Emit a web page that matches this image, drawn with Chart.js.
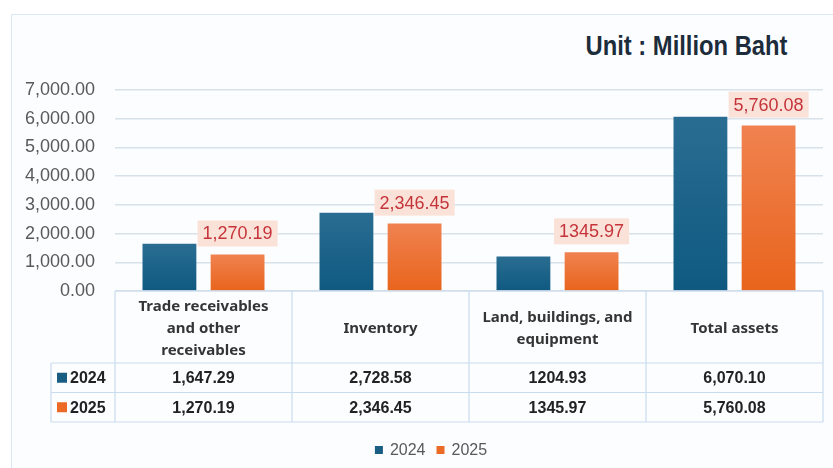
<!DOCTYPE html>
<html>
<head>
<meta charset="utf-8">
<script src="https://cdn.jsdelivr.net/npm/chart.js@4.4.1/dist/chart.umd.min.js"></script>
<style>
  html, body { margin: 0; padding: 0; background: #ffffff; }
  #wrap { position: relative; width: 833px; height: 468px; overflow: hidden; }
  #frame {
    position: absolute; left: 11px; top: 14px; width: 840px; height: 470px;
    border: 1.5px solid #dbe7f2; background: #fcfdff; box-sizing: border-box;
  }
  #unit {
    position: absolute; right: 46px; top: 31px;
    font-family: "Liberation Sans", Arial, sans-serif;
    font-weight: bold; font-size: 27px; color: #1d2c3b;
    transform: scaleX(0.88); transform-origin: right center; white-space: nowrap;
  }
  #myChart { position: absolute; left: 0; top: 0; }
</style>
</head>
<body>
<div id="wrap">
  <div id="frame"></div>
  <div id="unit">Unit : Million Baht</div>
  <canvas id="myChart" width="833" height="468"></canvas>
</div>
<script>
const categories = [
  ["Trade receivables", "and other", "receivables"],
  ["Inventory"],
  ["Land, buildings, and", "equipment"],
  ["Total assets"]
];
const years = ["2024", "2025"];
const values2024 = [1647.29, 2728.58, 1204.93, 6070.10];
const values2025 = [1270.19, 2346.45, 1345.97, 5760.08];
const text2024 = ["1,647.29", "2,728.58", "1204.93", "6,070.10"];
const text2025 = ["1,270.19", "2,346.45", "1345.97", "5,760.08"];

const BLUE = "#1a5d82";
const ORANGE = "#ec6a26";

function barGradient(top, bottom) {
  return function (ctx) {
    const chart = ctx.chart;
    const area = chart.chartArea;
    if (!area || ctx.parsed == null) return bottom;
    const y = chart.scales.y.getPixelForValue(ctx.parsed.y);
    const g = chart.ctx.createLinearGradient(0, y, 0, area.bottom);
    g.addColorStop(0, top);
    g.addColorStop(1, bottom);
    return g;
  };
}

// red value boxes above the 2025 bars
const valueLabels = {
  id: "valueLabels",
  afterDatasetsDraw(chart) {
    const c = chart.ctx;
    const meta = chart.getDatasetMeta(1);
    c.save();
    c.font = "18px 'Liberation Sans', Arial, sans-serif";
    c.textAlign = "center";
    c.textBaseline = "middle";
    meta.data.forEach((bar, i) => {
      const t = text2025[i];
      const w = c.measureText(t).width + 10;
      const h = 26;
      const yb = bar.y - 8;
      c.fillStyle = "#fbe2d8";
      c.fillRect(bar.x - w / 2, yb - h, w, h);
      c.fillStyle = "#c5343a";
      c.fillText(t, bar.x, yb - h / 2 + 1);
    });
    c.restore();
  }
};

// data table under the plot + legend
const dataTable = {
  id: "dataTable",
  afterDraw(chart) {
    const c = chart.ctx;
    const x = chart.scales.x;
    const area = chart.chartArea;
    const colW = (area.right - area.left) / categories.length;
    const top = area.bottom;
    const headBottom = top + 72;
    const rowH = 29.5;
    const r1 = headBottom + rowH;
    const r2 = r1 + rowH;
    const keyLeft = 51;

    c.save();
    c.strokeStyle = "#c9dcef";
    c.lineWidth = 1.2;
    c.beginPath();
    c.moveTo(area.left, top); c.lineTo(area.right, top);
    c.moveTo(keyLeft, headBottom); c.lineTo(area.right, headBottom);
    c.moveTo(keyLeft, r1); c.lineTo(area.right, r1);
    c.moveTo(keyLeft, r2); c.lineTo(area.right, r2);
    c.moveTo(keyLeft, headBottom); c.lineTo(keyLeft, r2);
    for (let i = 0; i <= categories.length; i++) {
      const px = area.left + i * colW;
      c.moveTo(px, top); c.lineTo(px, r2);
    }
    c.stroke();

    c.textAlign = "center";
    c.textBaseline = "middle";
    c.fillStyle = "#353535";
    c.font = "bold 15px 'Noto Sans', sans-serif";
    categories.forEach((lines, i) => {
      const cx = x.getPixelForValue(i);
      const cy = (top + headBottom) / 2 + 2;
      const lh = 22;
      lines.forEach((ln, j) => {
        c.fillText(ln, cx, cy + (j - (lines.length - 1) / 2) * lh);
      });
    });

    c.fillStyle = "#222222";
    c.font = "bold 16px 'Liberation Sans', Arial, sans-serif";
    categories.forEach((_, i) => {
      const cx = x.getPixelForValue(i);
      c.fillText(text2024[i], cx, headBottom + rowH / 2 + 1);
      c.fillText(text2025[i], cx, r1 + rowH / 2 + 1);
    });

    c.textAlign = "left";
    [BLUE, ORANGE].forEach((col, k) => {
      const cy = headBottom + rowH * k + rowH / 2;
      c.fillStyle = col;
      c.fillRect(57, cy - 5, 10, 10);
      c.fillStyle = "#222222";
      c.fillText(years[k], 70, cy + 1);
    });

    // legend
    c.font = "16px 'Liberation Sans', Arial, sans-serif";
    const ly = 450;
    const items = years.map((y, k) => ({ text: y, col: k ? ORANGE : BLUE, w: 15 + c.measureText(y).width }));
    const gap = 11;
    const total = items.reduce((s, it) => s + it.w, 0) + gap * (items.length - 1);
    let lx = 431 - total / 2;
    items.forEach(it => {
      c.fillStyle = it.col;
      c.fillRect(lx, ly - 4, 8, 8);
      c.fillStyle = "#595959";
      c.fillText(it.text, lx + 15, ly + 1);
      lx += it.w + gap;
    });
    c.restore();
  }
};

new Chart(document.getElementById("myChart"), {
  type: "bar",
  data: {
    labels: categories,
    datasets: [
      {
        label: years[0],
        data: values2024,
        backgroundColor: barGradient("#2a6d92", "#0f5980")
      },
      {
        label: years[1],
        data: values2025,
        backgroundColor: barGradient("#f08250", "#e8641c")
      }
    ]
  },
  options: {
    responsive: false,
    animation: false,
    layout: { padding: { top: 90, right: 10, bottom: 46, left: 0 } },
    datasets: { bar: { categoryPercentage: 0.77, barPercentage: 0.79 } },
    scales: {
      x: {
        ticks: { display: false },
        grid: { display: false },
        border: { display: false },
        afterFit(s) { s.height = 131; }
      },
      y: {
        min: 0,
        max: 7000,
        ticks: {
          stepSize: 1000,
          padding: 20,
          color: "#595959",
          font: { family: "'Liberation Sans', Arial, sans-serif", size: 18 },
          callback: v => v.toLocaleString("en-US", { minimumFractionDigits: 2, maximumFractionDigits: 2 })
        },
        grid: { color: "#d8e2ea", lineWidth: 1.5, drawTicks: false },
        border: { display: false },
        afterFit(s) { s.width = 115; }
      }
    },
    plugins: {
      legend: { display: false },
      tooltip: { enabled: false }
    }
  },
  plugins: [valueLabels, dataTable]
});
</script>
</body>
</html>
